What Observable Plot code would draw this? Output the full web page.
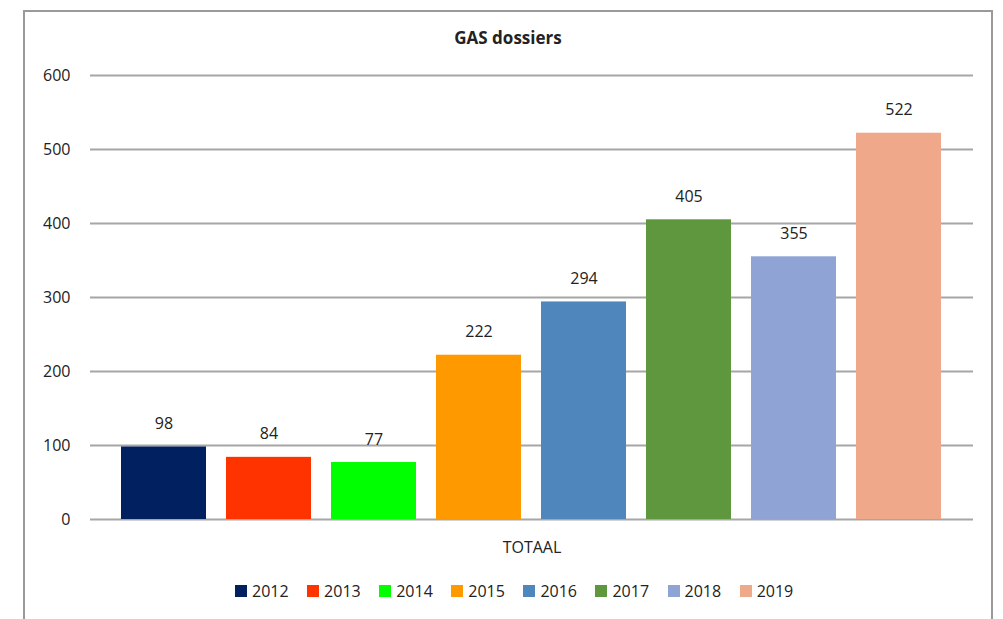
<!DOCTYPE html>
<html>
<head>
<meta charset="utf-8">
<script src="https://cdn.jsdelivr.net/npm/d3@7"></script>
<script src="https://cdn.jsdelivr.net/npm/@observablehq/plot@0.6"></script>
<style>
  html, body { margin: 0; padding: 0; background: #fff; }
  #wrap { position: relative; width: 1003px; height: 619px; overflow: hidden; font-family: "Open Sans", sans-serif; color: #222; }
  #frame { position: absolute; left: 23px; top: 10px; width: 966px; height: 640px; border: 2px solid #9a9a9a; }
  #title { position: absolute; left: 0; width: 1016px; top: 26px; text-align: center; font-weight: bold; font-size: 17px; }
  #chart { position: absolute; left: 0; top: 50px; }
  #legend { position: absolute; left: 235px; top: 574px; }
  #legend span { margin-right: 18.5px !important; font-size: 16px; color: #222; }
  #legend svg { margin-right: 5px !important; }
</style>
</head>
<body>
<div id="wrap">
  <div id="frame"></div>
  <div id="title">GAS dossiers</div>
  <div id="chart"></div>
  <div id="legend"></div>
</div>
<script>
const years = ["2012", "2013", "2014", "2015", "2016", "2017", "2018", "2019"];
const values = [98, 84, 77, 222, 294, 405, 355, 522];
const colors = ["#002060", "#FF3300", "#00FF00", "#FF9900", "#4F86BB", "#5F973E", "#8FA3D4", "#F0A88A"];
const groups = ["TOTAAL"];
const yTicks = [0, 100, 200, 300, 400, 500, 600];

const data = years.map((y, i) => ({ year: y, value: values[i], group: groups[0] }));

const chart = Plot.plot({
  width: 1003,
  height: 520,
  marginLeft: 90,
  marginRight: 30,
  marginTop: 25,
  marginBottom: 51,
  style: { fontFamily: "Open Sans, sans-serif", fontSize: "16px", color: "#222", background: "transparent" },
  fx: { domain: groups, padding: 0, label: null, axis: "bottom", tickSize: 0, tickPadding: 22 },
  x: { domain: years, axis: null, paddingInner: 0.19, paddingOuter: 0.095, insetLeft: 21, insetRight: 22 },
  y: { domain: [0, 600], axis: null },
  color: { domain: years, range: colors },
  marks: [
    Plot.gridY(yTicks, { stroke: "#a6a6a6", strokeOpacity: 1, strokeWidth: 2 }),
    Plot.axisY(yTicks, { tickSize: 0, tickPadding: 20, label: null, fontSize: 16 }),
    Plot.barY(data, { fx: "group", x: "year", y: "value", fill: "year" }),
    Plot.text(data, { fx: "group", x: "year", y: "value", text: d => String(d.value), dy: -23, fontSize: 16, fill: "#222" })
  ]
});
document.getElementById("chart").appendChild(chart);

const legend = Plot.legend({
  color: { type: "ordinal", domain: years, range: colors },
  legend: "swatches",
  swatchSize: 12,
  style: { fontFamily: "Open Sans, sans-serif", fontSize: "16px", color: "#222" }
});
document.getElementById("legend").appendChild(legend);
</script>
</body>
</html>
